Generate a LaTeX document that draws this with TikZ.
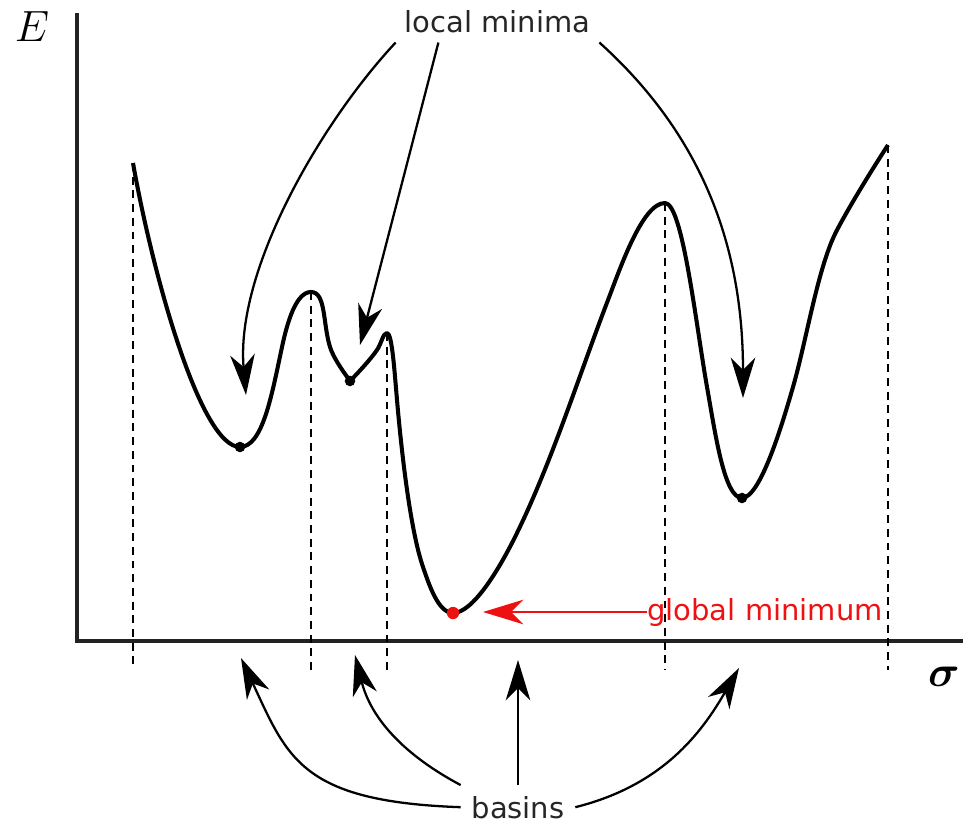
\documentclass[tikz,border=0pt]{standalone}
\usepackage{tikz}
\usetikzlibrary{arrows.meta,calc}
\usepackage{amsmath,amssymb}
\usepackage{fontspec}
\newfontfamily\labelfont{DejaVu Sans}
\definecolor{accent}{HTML}{EE1111}
\definecolor{axisgray}{HTML}{222222}

\begin{document}
\begin{tikzpicture}[
  curve/.style={line width=2.3pt, line join=round},
  axis/.style={line width=2pt, draw=axisgray},
  guide/.style={line width=1.3pt, dash pattern=on 4.5pt off 3.3pt},
  lbl/.style={font=\labelfont\fontsize{16.5}{20}\selectfont, text=#1},
  lbl/.default=black!85,
  arr/.style={-{Stealth[length=23pt, width=14pt, inset=7pt]}, line width=1.3pt},
  dot/.style={circle, fill=#1, inner sep=0pt, minimum size=6pt}
]
  \useasboundingbox (-1.54,-3.66) rectangle (17.84,12.82);

  % axes
  \coordinate (o) at (0,0);
  \coordinate (ytop) at (0,12.56);
  \coordinate (xend) at (17.72,0);
  \coordinate (base) at (0,-0.58);
  \draw[axis] (ytop) -- (o) -- (xend);
  \node[font=\fontsize{26}{30}\selectfont] (elab) at (-0.90,12.28) {$E$};
  \node[font=\fontsize{28}{32}\selectfont] (slab) at (17.34,-0.72) {$\boldsymbol{\sigma}$};

  % basin borders
  \coordinate (p0) at (1.12,9.56);
  \coordinate (p1) at (4.68,6.98);
  \coordinate (p2) at (6.20,6.16);
  \coordinate (p3) at (11.76,8.76);
  \coordinate (p4) at (16.22,9.92);
  \foreach \p in {p0,p1,p2,p3,p4}
    \draw[guide] (\p) -- (\p |- base);

  % energy landscape
  \draw[curve] (p0)
    .. controls +(-80:2.2) and +(180:0.8) .. (3.26,3.88)
    .. controls +(0:0.45) and +(258:1.0) .. (4.10,5.88)
    .. controls +(78:0.5) and +(180:0.3) .. (p1)
    .. controls +(0:0.3) and +(107:0.5) .. (5.06,5.88)
    .. controls +(-73:0.25) and +(125:0.15) .. (5.46,5.20)
    .. controls +(45:0.2) and +(235:0.25) .. (6.00,5.82)
    .. controls +(55:0.15) and +(180:0.08) .. (p2)
    .. controls +(0:0.1) and +(95:0.6) .. (6.40,4.82)
    .. controls +(-85:1.0) and +(109:0.8) .. (6.92,1.48)
    .. controls +(-71:0.35) and +(180:0.3) .. (7.52,0.56)
    .. controls +(0:0.4) and +(244:0.8) .. (8.80,2.16)
    .. controls +(64:1.6) and +(249:1.6) .. (10.62,6.82)
    .. controls +(69:0.7) and +(180:0.45) .. (p3)
    .. controls +(0:0.35) and +(100:1.3) .. (12.60,5.08)
    .. controls +(-80:1.0) and +(180:0.35) .. (13.30,2.86)
    .. controls +(0:0.35) and +(254:0.9) .. (14.32,5.08)
    .. controls +(74:1.0) and +(242:0.8) .. (15.20,8.22)
    .. controls +(62:0.6) and +(237:0.6) .. (p4);

  \node[dot=black] (m1) at (3.26,3.88) {};
  \node[dot=black] (m2) at (5.46,5.20) {};
  \node[dot=black] (m3) at (13.30,2.86) {};
  \node[dot=accent, minimum size=7pt] (gmin) at (7.52,0.56) {};

  % labels
  \node[lbl, anchor=base, inner sep=5pt] (loc) at (8.41,12.16) {local minima};
  \node[lbl, anchor=base, inner sep=6pt] (bas) at (8.82,-3.54) {basins};
  \node[lbl=accent, anchor=base west, inner sep=0pt] (glob) at (11.40,0.42) {global minimum};

  % arrow tips
  \coordinate (t1) at (3.38,4.92);
  \coordinate (t2) at (5.66,5.92);
  \coordinate (t3) at (13.32,4.86);
  \coordinate (gtip) at (8.12,0.56);
  \coordinate (b1) at (3.28,-0.34);
  \coordinate (b2) at (5.56,-0.28);
  \coordinate (b3) at (8.82,-0.38);
  \coordinate (b4) at (13.24,-0.54);

  \draw[arr] (loc.south west) .. controls +(-133:2.2) and +(95:2.5) .. (t1);
  \draw[arr] ($(loc.south west)!0.21!(loc.south east)$) -- (t2);
  \draw[arr] (loc.south east) .. controls +(-42:2.8) and +(90:3) .. (t3);
  \draw[arr, accent] (glob.west) -- (glob.west -| gtip);

  \draw[arr] (bas.west) .. controls +(178:3.2) and +(-65:2.2) .. (b1);
  \draw[arr] (bas.north west) .. controls +(152:1.3) and +(-76:1.3) .. (b2);
  \draw[arr] (bas.north) -- (b3);
  \draw[arr] (bas.east) .. controls +(14:1.8) and +(-120:1.5) .. (b4);
\end{tikzpicture}
\end{document}
